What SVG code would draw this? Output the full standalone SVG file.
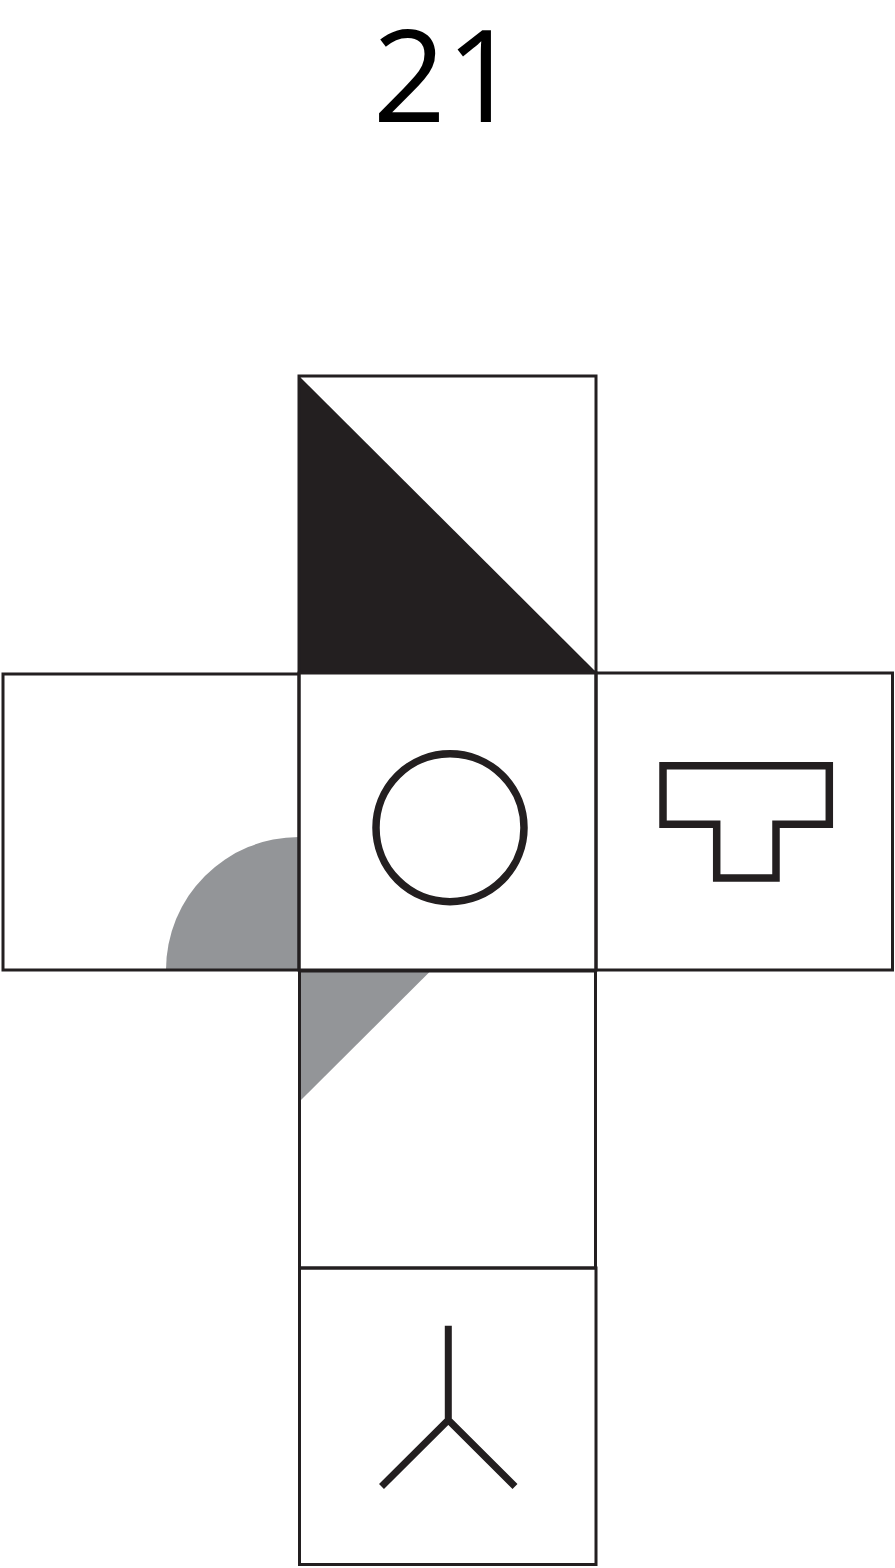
<svg xmlns="http://www.w3.org/2000/svg" width="895" height="1568" viewBox="0 0 895 1568">
<style>
.face{fill:none;stroke:#231f20;stroke-width:3}
.sym{fill:none;stroke:#231f20;stroke-width:7.5}
.gray{fill:#939598}
.label{font-family:"Open Sans","Liberation Sans",sans-serif;font-size:128px;fill:#000}
</style>
<rect width="895" height="1568" fill="#fff"/>
<text class="label" x="446" y="122" text-anchor="middle">21</text>
<g id="face-top">
<polygon points="299,376 299,672 596,672" fill="#231f20"/>
<rect class="face" x="299" y="376" width="297" height="296"/>
</g>
<g id="face-left">
<path class="gray" d="M299,970 L166,970 A133,133 0 0 1 299,837 Z"/>
<rect class="face" x="3" y="674" width="296" height="296"/>
</g>
<g id="face-center">
<circle class="sym" cx="450" cy="827.7" r="74"/>
<rect class="face" x="299" y="673" width="297" height="297"/>
</g>
<g id="face-right">
<path class="sym" d="M663,765.7 H829.3 V824.3 H776 V878 H716.7 V824.3 H663 Z"/>
<rect class="face" x="596" y="673" width="296.5" height="297"/>
</g>
<g id="face-bottom1">
<polygon class="gray" points="300,972 429.5,972 300,1101"/>
<rect class="face" x="299.5" y="971" width="296" height="297"/>
</g>
<g id="face-bottom2">
<path d="M448.3,1325.7 V1420 M448.3,1420 L381.5,1486.5 M448.3,1420 L515,1486.5" fill="none" stroke="#231f20" stroke-width="7"/>
<rect class="face" x="299.5" y="1268" width="296.5" height="296.5"/>
</g>
<g id="connectors"></g>
</svg>
